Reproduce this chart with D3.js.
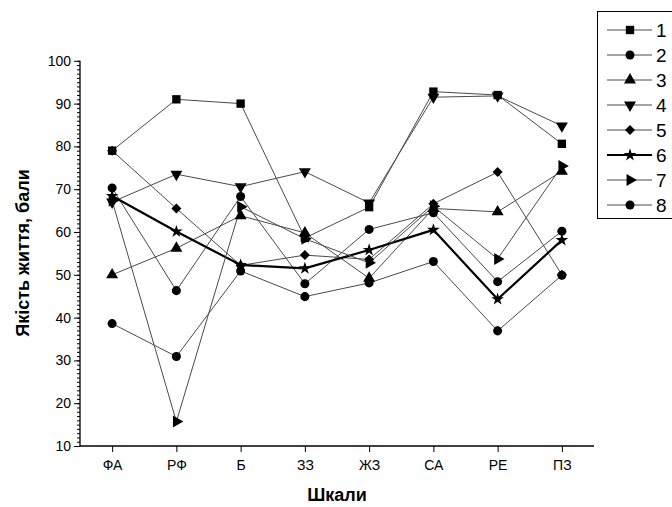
<!DOCTYPE html>
<html><head><meta charset="utf-8">
<script src="https://cdn.jsdelivr.net/npm/d3@7"></script>
<style>body{margin:0;background:#fff;}svg{display:block;font-family:"Liberation Sans",Arial,sans-serif;}</style>
</head><body><svg id="c" width="672" height="507"></svg>
<script>
const categories = ["ФА","РФ","Б","ЗЗ","ЖЗ","СА","РЕ","ПЗ"];
const seriesNames = ["1","2","3","4","5","6","7","8"];
const s1 = [79, 91, 90, 58.6, 65.8, 92.8, 92, 80.6];
const s2 = [70.3, 46.3, 68.3, 47.9, 60.6, 64.5, 48.4, 60.2];
const s3 = [50, 56.2, 63.8, 59.8, 49.2, 65.5, 64.7, 74.2];
const s4 = [67, 73.5, 70.6, 74.1, 66.8, 91.5, 91.8, 84.8];
const s5 = [79, 65.5, 52.2, 54.6, 53.6, 66.6, 74, 50];
const s6 = [68.4, 60.1, 52.3, 51.5, 55.8, 60.5, 44.3, 58.1];
const s7 = [67.3, 15.7, 65.9, 58.4, 52.8, 66, 53.7, 75.4];
const s8 = [38.6, 30.9, 50.9, 44.9, 48.1, 53.1, 36.9, 49.9];
const yTicks = [10,20,30,40,50,60,70,80,90,100];

const allSeries = [s1,s2,s3,s4,s5,s6,s7,s8];
const svg = d3.select("#c");
const x = d3.scalePoint().domain(categories).range([80,594]).padding(0.5);
const y = d3.scaleLinear().domain([10,100]).range([446,60.8]);

// axes
const gy = svg.append("g").attr("transform","translate(80,0)");
gy.call(d3.axisLeft(y).tickValues(d3.range(10,101,1)).tickSize(3).tickFormat(""));
gy.call(g=>g.select(".domain").remove());
const gy2 = svg.append("g").attr("transform","translate(80,0)")
  .call(d3.axisLeft(y).tickValues(yTicks).tickSize(6).tickPadding(3));
gy2.selectAll("text").attr("font-size",14).attr("fill","#000");
gy2.select(".domain").attr("d","M0,"+y(100)+"V"+y(10)).attr("stroke-width",1.3);
svg.selectAll(".tick line").attr("stroke","#000");

const gx = svg.append("g").attr("transform","translate(0,446)")
  .call(d3.axisBottom(x).tickSize(6).tickPadding(8));
gx.select(".domain").attr("d","M80,0H594").attr("stroke-width",1.3);
gx.selectAll("text").attr("font-size",14).attr("fill","#000");

svg.append("text").attr("x",337).attr("y",501).attr("text-anchor","middle")
  .attr("font-weight","bold").attr("font-size",18).text("Шкали");
svg.append("text").attr("transform","translate(29,253) rotate(-90)").attr("text-anchor","middle")
  .attr("font-weight","bold").attr("font-size",18).text("Якість життя, бали");

// markers
function markerPath(i){
  switch(i){
    case 0: return d3.symbol(d3.symbolSquare,70)();
    case 1: return d3.symbol(d3.symbolCircle,64)();
    case 2: return d3.symbol(d3.symbolTriangle,62)();
    case 3: return d3.symbol(d3.symbolTriangle,62)();
    case 4: return d3.symbol(d3.symbolSquare,50)();
    case 5: return d3.symbol(d3.symbolStar,50)();
    case 6: return d3.symbol(d3.symbolTriangle,62)();
    case 7: return d3.symbol(d3.symbolCircle,64)();
  }
}
const rot = [0,0,0,180,45,0,90,0];

const line = d3.line().x((d,i)=>x(categories[i])).y(d=>y(d));
allSeries.forEach((s,i)=>{
  svg.append("path").attr("d",line(s)).attr("fill","none")
    .attr("stroke", i===5 ? "#000" : "#4a4a4a").attr("stroke-width", i===5 ? 2.2 : 1);
});
allSeries.forEach((s,i)=>{
  svg.append("g").selectAll("path").data(s).join("path")
    .attr("d",markerPath(i))
    .attr("transform",(d,j)=>`translate(${x(categories[j])},${y(d)}) rotate(${rot[i]})`)
    .attr("fill","#000");
});

// legend
const lg = svg.append("g");
lg.append("rect").attr("x",597.5).attr("y",11.5).attr("width",80).attr("height",207)
  .attr("fill","#fff").attr("stroke","#000").attr("stroke-width",1);
seriesNames.forEach((n,i)=>{
  const ly = 30 + i*25;
  lg.append("line").attr("x1",607).attr("x2",652).attr("y1",ly).attr("y2",ly)
    .attr("stroke", i===5 ? "#000":"#4a4a4a").attr("stroke-width", i===5?2.2:1);
  lg.append("path").attr("d",markerPath(i)).attr("transform",`translate(630,${ly}) rotate(${rot[i]})`).attr("fill","#000");
  lg.append("text").attr("x",656).attr("y",ly+7).attr("font-size",19).text(n);
});
</script></body></html>
